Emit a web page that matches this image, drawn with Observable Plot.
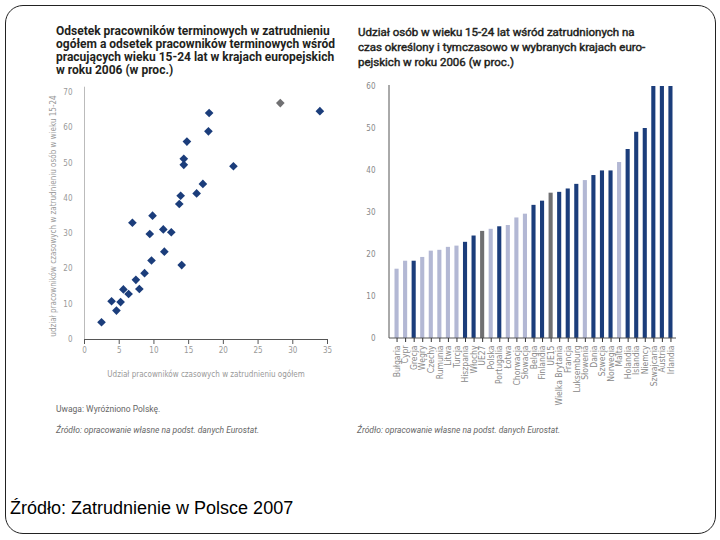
<!DOCTYPE html>
<html><head><meta charset="utf-8">
<script src="https://cdn.jsdelivr.net/npm/d3@7"></script>
<script src="https://cdn.jsdelivr.net/npm/@observablehq/plot@0.6"></script>
<style>
body{margin:0;background:#fff;}
#page{position:relative;width:720px;height:540px;overflow:hidden;font-family:Roboto,"Open Sans",sans-serif;}
.abs{position:absolute;white-space:nowrap;}
#frame{position:absolute;left:5px;top:5px;width:709px;height:527px;border:1px solid #222;border-radius:18px;}
#t1{left:56px;top:25px;font-weight:700;font-size:12px;line-height:12.9px;color:#231f20;}
#t2{left:358px;top:24.5px;font-weight:400;font-size:11.5px;line-height:15px;color:#231f20;-webkit-text-stroke:0.45px #231f20;}
.note{font-size:8.5px;color:#666;}
.src{font-size:8.5px;color:#666;font-style:italic;}
#cap{left:10px;top:498px;font-family:"Liberation Sans",Arial,sans-serif;font-size:18px;color:#000;}
</style></head>
<body><div id="page">
<div id="frame"></div>
<div id="t1" class="abs">Odsetek pracowników terminowych w zatrudnieniu<br>ogółem a odsetek pracowników terminowych wśród<br>pracujących wieku 15-24 lat w krajach europejskich<br>w roku 2006 (w proc.)</div>
<div id="t2" class="abs">Udział osób w wieku 15-24 lat wśród zatrudnionych na<br>czas określony i tymczasowo w wybranych krajach euro-<br>pejskich w roku 2006 (w proc.)</div>
<div id="left" class="abs" style="left:40px;top:80px;"></div>
<div id="right" class="abs" style="left:355px;top:80px;"></div>
<div class="abs note" style="left:56px;top:404px;">Uwaga: Wyróżniono Polskę.</div>
<div class="abs src" style="left:56px;top:425px;">Źródło: opracowanie własne na podst. danych Eurostat.</div>
<div class="abs src" style="left:357px;top:425px;">Źródło: opracowanie własne na podst. danych Eurostat.</div>
<div id="cap" class="abs">Źródło: Zatrudnienie w Polsce 2007</div>
</div>
<script>
// ---- Left chart data (scatter) ----
const tempShareTotal = [2.45, 3.9, 4.6, 5.2, 5.6, 6.35, 6.9, 7.4, 7.9, 8.65, 9.4, 9.65, 9.8, 11.35, 11.5, 12.5, 13.65, 13.85, 14.0, 14.3, 14.3, 14.75, 16.15, 17.05, 17.85, 17.95, 21.45, 28.2, 33.9];
const tempShareYouth = [4.9, 10.85, 8.2, 10.6, 14.2, 12.9, 33.1, 16.9, 14.3, 18.8, 29.9, 22.4, 35.1, 31.2, 24.9, 30.4, 38.4, 40.75, 21.1, 51.2, 49.5, 56.1, 41.4, 44.1, 59.0, 64.2, 49.1, 67.0, 64.7];
const isPoland = [false,false,false,false,false,false,false,false,false,false,false,false,false,false,false,false,false,false,false,false,false,false,false,false,false,false,false,true,false];
const scatterXTicks = [0,5,10,15,20,25,30,35];
const scatterYTicks = [0,10,20,30,40,50,60,70];

// ---- Right chart data (bars) ----
const countries = ["Bułgaria","Cypr","Grecja","Węgry","Czechy","Rumunia","Litwa","Turcja","Hiszpania","Włochy","UE27","Polska","Portugalia","Łotwa","Chorwacja","Słowacja","Belgia","Finlandia","UE15","Wielka Brytania","Francja","Luksemburg","Słowenia","Dania","Szwecja","Norwegia","Malta","Holandia","Islandia","Niemcy","Szwajcaria","Austria","Irlandia"];
const youthShare = [16.5, 18.4, 18.4, 19.3, 20.8, 21.0, 21.7, 22.0, 22.9, 24.4, 25.5, 26.0, 26.6, 26.9, 28.7, 29.6, 31.7, 32.7, 34.6, 34.8, 35.6, 36.7, 37.6, 38.8, 39.9, 39.9, 41.9, 45.0, 49.1, 50.0, 60, 60, 60];
const barGroup = ["light","light","dark","light","light","light","light","light","dark","dark","gray","light","dark","light","light","light","dark","dark","gray","dark","dark","dark","light","dark","dark","dark","light","dark","dark","dark","dark","dark","dark"];
const barYTicks = [0,10,20,30,40,50,60];

const DARK = "#1b3d7b", LIGHT = "#b3b8d4", GRAY = "#707072";
const tickFont = "'DejaVu Sans Condensed', 'DejaVu Sans', sans-serif";

const scatter = tempShareTotal.map((x, i) => ({x, y: tempShareYouth[i], pl: isPoland[i]}));
const bars = countries.map((c, i) => ({country: c, value: youthShare[i], group: barGroup[i]}));

const leftPlot = Plot.plot({
  width: 300, height: 310,
  marginLeft: 44, marginRight: 13, marginTop: 12, marginBottom: 51,
  style: {fontFamily: tickFont, fontSize: "8px", color: "#999", background: "transparent"},
  x: {domain: [0, 35]},
  y: {domain: [0, 70]},
  marks: [
    Plot.ruleX([0], {stroke: "#bbb", y1: 0, y2: 71.5}),
    Plot.ruleY([0], {stroke: "#555"}),
    Plot.axisX({ticks: scatterXTicks, tickSize: 5, tickPadding: 3, stroke: "#555",
      label: "Udział pracowników czasowych w zatrudnieniu ogółem", labelAnchor: "center", labelArrow: "none", labelOffset: 37}),
    Plot.axisY({ticks: scatterYTicks, tickSize: 0, tickPadding: 12,
      label: "udział pracowników czasowych w zatrudnieniu osób w wieku 15-24", labelAnchor: "center", labelArrow: "none", labelOffset: 34}),
    Plot.dot(scatter, {x: "x", y: "y", symbol: "diamond2", r: 3.9, fill: d => d.pl ? GRAY : DARK, stroke: "none"})
  ]
});
document.getElementById("left").appendChild(leftPlot);

const rightPlot = Plot.plot({
  width: 330, height: 345,
  marginLeft: 34, marginRight: 9, marginTop: 6, marginBottom: 87,
  style: {fontFamily: tickFont, fontSize: "8px", color: "#888", background: "transparent"},
  x: {domain: countries, range: [39.5, 317.5], paddingInner: 0.52, paddingOuter: 0, align: 0.5, round: false},
  y: {domain: [0, 60]},
  marks: [
    Plot.barY(bars, {x: "country", y: "value", fill: d => d.group === "dark" ? DARK : d.group === "gray" ? GRAY : LIGHT}),
    (index, scales, values, dim) => {
      const g = d3.create("svg:g").attr("stroke", "#555");
      g.append("line")
        .attr("x1", dim.marginLeft).attr("x2", dim.marginLeft)
        .attr("y1", scales.y(60) - 1).attr("y2", scales.y(0));
      g.append("line")
        .attr("x1", dim.marginLeft).attr("x2", dim.width - dim.marginRight)
        .attr("y1", scales.y(0)).attr("y2", scales.y(0));
      return g.node();
    },
    Plot.axisY({ticks: barYTicks, tickSize: 0, tickPadding: 14, label: null}),
    Plot.axisX({tickRotate: -90, tickSize: 4, tickPadding: 3, stroke: "#333", label: null, fontSize: 8.5})
  ]
});
document.getElementById("right").appendChild(rightPlot);
</script>
</body></html>
